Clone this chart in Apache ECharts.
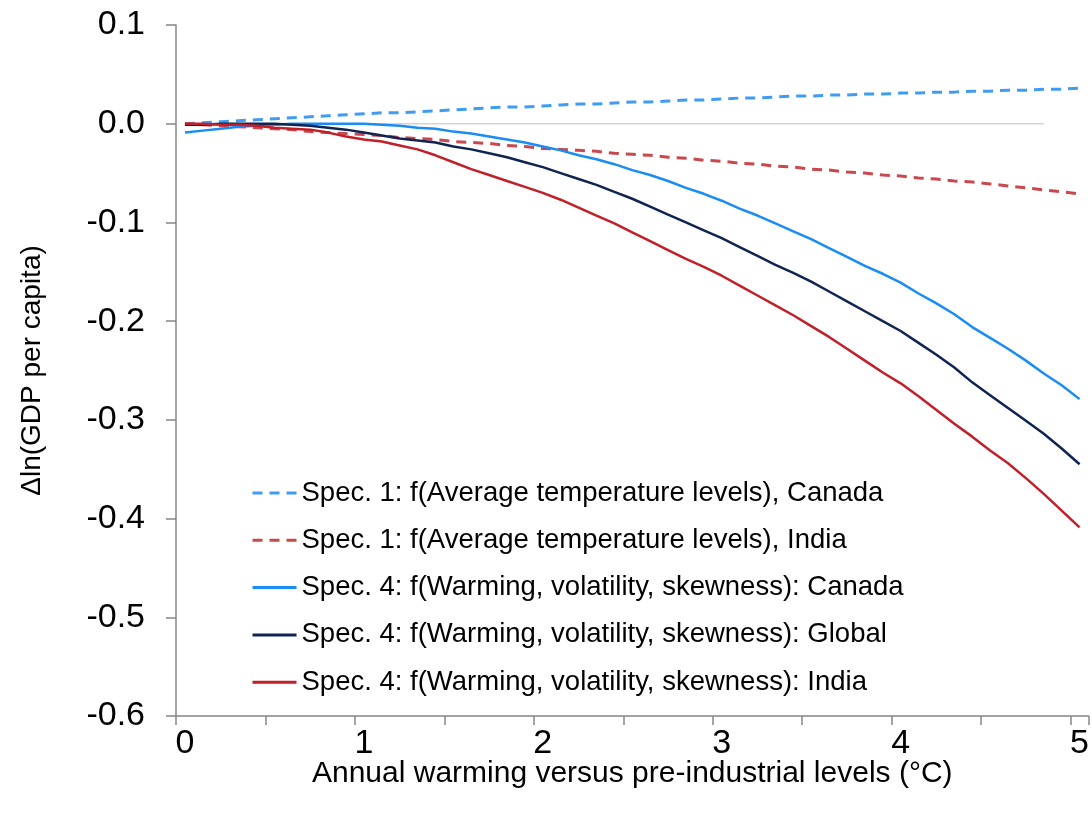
<!DOCTYPE html>
<html>
<head>
<meta charset="utf-8">
<script src="https://cdn.jsdelivr.net/npm/echarts@6/dist/echarts.min.js"></script>
<style>
html,body{margin:0;padding:0;background:#fff;}
#chart{width:1092px;height:817px;}
</style>
</head>
<body>
<div id="chart"></div>
<script>
// x categories: annual warming (°C)
var categories = ['0','0.1','0.2','0.3','0.4','0.5','0.6','0.7','0.8','0.9',
  '1','1.1','1.2','1.3','1.4','1.5','1.6','1.7','1.8','1.9',
  '2','2.1','2.2','2.3','2.4','2.5','2.6','2.7','2.8','2.9',
  '3','3.1','3.2','3.3','3.4','3.5','3.6','3.7','3.8','3.9',
  '4','4.1','4.2','4.3','4.4','4.5','4.6','4.7','4.8','4.9','5'];

var spec1Canada = [0.000,0.001,0.002,0.003,0.004,0.005,0.006,0.007,0.008,0.009,
  0.010,0.011,0.011,0.012,0.013,0.014,0.015,0.016,0.017,0.017,
  0.018,0.019,0.020,0.020,0.021,0.022,0.022,0.023,0.024,0.024,
  0.025,0.026,0.026,0.027,0.028,0.028,0.029,0.029,0.030,0.030,
  0.031,0.031,0.032,0.032,0.033,0.033,0.034,0.034,0.035,0.035,0.036];

var spec1India = [0.000,-0.001,-0.002,-0.003,-0.004,-0.005,-0.006,-0.008,-0.009,-0.010,
  -0.011,-0.012,-0.014,-0.015,-0.016,-0.018,-0.019,-0.020,-0.022,-0.023,
  -0.025,-0.026,-0.027,-0.028,-0.030,-0.031,-0.032,-0.034,-0.035,-0.037,
  -0.038,-0.040,-0.041,-0.043,-0.044,-0.046,-0.047,-0.049,-0.050,-0.052,
  -0.053,-0.055,-0.056,-0.058,-0.059,-0.061,-0.063,-0.065,-0.067,-0.069,-0.071];

var spec4Canada = [-0.009,-0.007,-0.005,-0.003,-0.002,-0.001,0.000,0.000,0.000,0.000,
  0.000,-0.001,-0.002,-0.004,-0.005,-0.008,-0.010,-0.013,-0.016,-0.019,
  -0.023,-0.027,-0.032,-0.036,-0.041,-0.047,-0.052,-0.058,-0.065,-0.071,
  -0.078,-0.086,-0.093,-0.101,-0.109,-0.117,-0.126,-0.135,-0.144,-0.152,
  -0.161,-0.172,-0.182,-0.193,-0.206,-0.217,-0.228,-0.240,-0.253,-0.265,-0.279];

var spec4Global = [-0.001,-0.001,0.000,0.000,0.000,0.000,-0.001,-0.002,-0.004,-0.006,
  -0.009,-0.012,-0.015,-0.017,-0.019,-0.023,-0.026,-0.030,-0.034,-0.039,
  -0.044,-0.050,-0.056,-0.062,-0.069,-0.076,-0.084,-0.092,-0.100,-0.108,
  -0.116,-0.125,-0.134,-0.143,-0.151,-0.160,-0.170,-0.180,-0.190,-0.200,
  -0.210,-0.222,-0.234,-0.247,-0.262,-0.275,-0.288,-0.301,-0.314,-0.329,-0.345];

var spec4India = [0.000,0.000,-0.001,-0.001,-0.002,-0.004,-0.005,-0.006,-0.009,-0.013,
  -0.016,-0.018,-0.022,-0.026,-0.032,-0.039,-0.046,-0.052,-0.058,-0.064,
  -0.070,-0.077,-0.085,-0.093,-0.101,-0.110,-0.119,-0.128,-0.137,-0.145,
  -0.154,-0.164,-0.174,-0.184,-0.194,-0.205,-0.216,-0.228,-0.240,-0.252,
  -0.263,-0.276,-0.290,-0.304,-0.317,-0.331,-0.344,-0.359,-0.375,-0.392,-0.409];

// zero reference line: endpoints (category, value)
var zeroLine = [['0', 0], ['4.8', 0]];

var seriesNames = [
  'Spec. 1: f(Average temperature levels), Canada',
  'Spec. 1: f(Average temperature levels), India',
  'Spec. 4: f(Warming, volatility, skewness): Canada',
  'Spec. 4: f(Warming, volatility, skewness): Global',
  'Spec. 4: f(Warming, volatility, skewness): India'
];

var FONT = '"Liberation Sans", Arial, sans-serif';
var chart = echarts.init(document.getElementById('chart'));

function lineSeries(name, data, color, dashed, width) {
  return {
    name: name, type: 'line', data: data, symbol: 'none', smooth: false,
    lineStyle: { color: color, width: width, type: dashed ? [10, 7] : 'solid' },
    itemStyle: { color: color },
    z: 3
  };
}

chart.setOption({
  animation: false,
  backgroundColor: '#ffffff',
  grid: { left: 176, right: 1, top: 25, bottom: 101, containLabel: false },
  legend: {
    orient: 'vertical', left: 251, top: 479, padding: 0,
    itemWidth: 44, itemHeight: 14, itemGap: 19.3,
    data: seriesNames,
    itemStyle: { opacity: 0 },
    lineStyle: { width: 3 },
    textStyle: { fontFamily: FONT, fontSize: 27.5, color: '#000', lineHeight: 28 }
  },
  xAxis: {
    type: 'category', data: categories, boundaryGap: true,
    name: 'Annual warming versus pre-industrial levels (°C)',
    nameLocation: 'middle', nameGap: 43, nameMoveOverlap: false,
    nameTextStyle: { fontFamily: FONT, fontSize: 30, color: '#000' },
    axisLine: { show: true, onZero: false, lineStyle: { color: '#878787', width: 1.5 } },
    axisTick: { show: true, interval: 4, length: 9, alignWithLabel: false, lineStyle: { color: '#878787', width: 1.5 } },
    axisLabel: { interval: 9, margin: 11, fontFamily: FONT, fontSize: 34, color: '#000' },
    splitLine: { show: false }
  },
  yAxis: {
    type: 'value', min: -0.6, max: 0.1, interval: 0.1,
    name: 'Δln(GDP per capita)', nameLocation: 'middle', nameGap: 130, nameMoveOverlap: false,
    nameTextStyle: { fontFamily: FONT, fontSize: 28, color: '#000' },
    axisLine: { show: true, onZero: false, lineStyle: { color: '#878787', width: 1.5 } },
    axisTick: { show: true, inside: false, length: 10, lineStyle: { color: '#878787', width: 1.5 } },
    axisLabel: { margin: 31, fontFamily: FONT, fontSize: 34, color: '#000',
      formatter: function (v) { return (Math.abs(v) < 1e-9 ? 0 : v).toFixed(1); } },
    splitLine: { show: false }
  },
  series: [
    { name: 'zero', type: 'line', data: zeroLine, symbol: 'none', silent: true,
      lineStyle: { color: '#d4d4d4', width: 1.5 }, z: 1 },
    lineSeries(seriesNames[0], spec1Canada, '#3f9cf2', true, 3),
    lineSeries(seriesNames[1], spec1India, '#c9484d', true, 3),
    lineSeries(seriesNames[2], spec4Canada, '#1a8cf5', false, 2.5),
    lineSeries(seriesNames[3], spec4Global, '#0f2452', false, 2.5),
    lineSeries(seriesNames[4], spec4India, '#c21f29', false, 2.5)
  ]
});
</script>
</body>
</html>
